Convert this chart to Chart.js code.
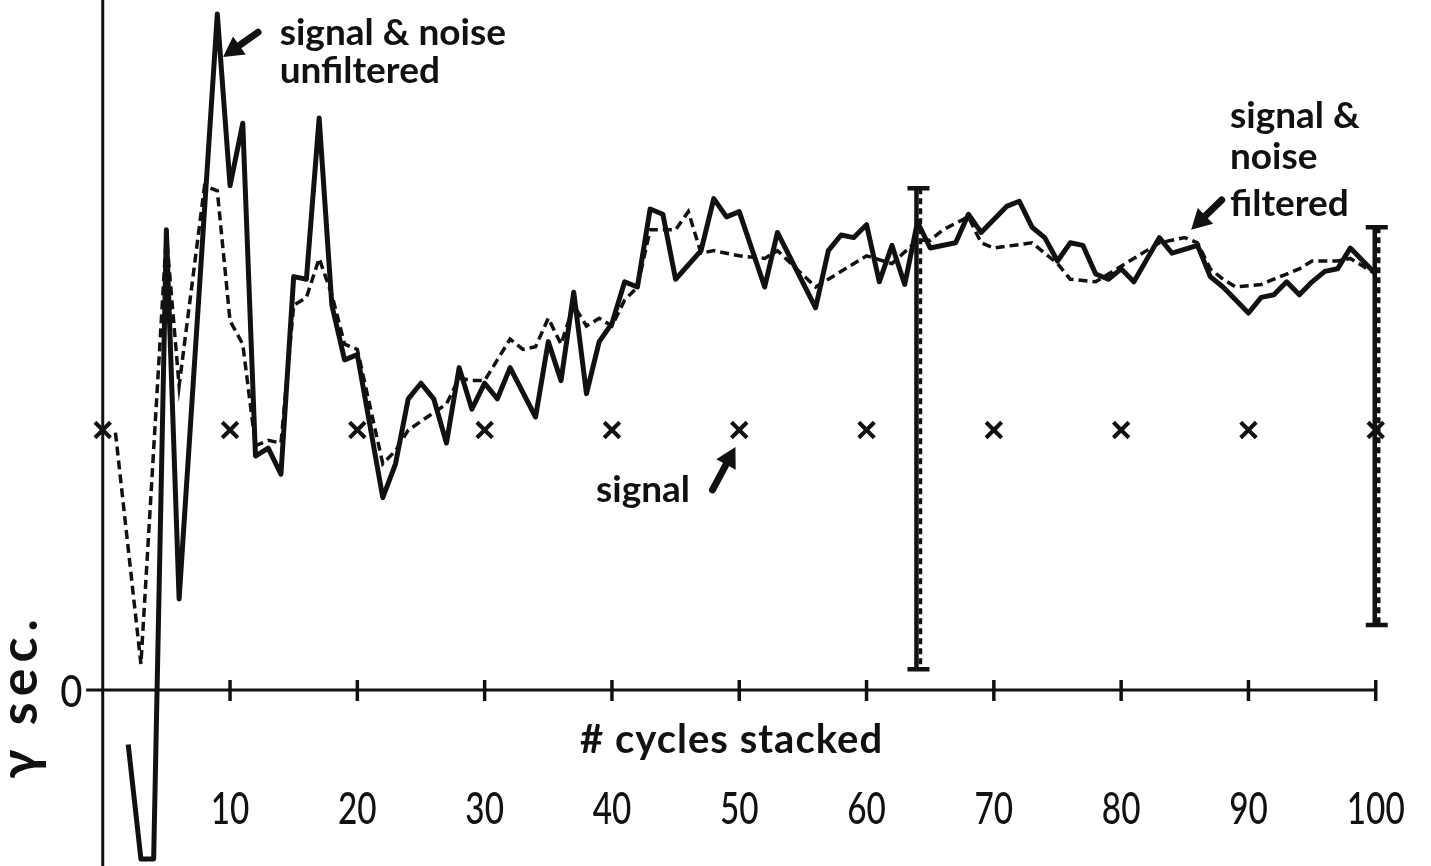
<!DOCTYPE html>
<html>
<head>
<meta charset="utf-8">
<script src="https://cdn.jsdelivr.net/npm/chart.js@4.4.1/dist/chart.umd.min.js"></script>
<style>
  html, body { margin: 0; padding: 0; background: #fff; }
  #plot { display: block; }
</style>
</head>
<body>
<canvas id="plot" width="1431" height="866"></canvas>
<script>
// signal & noise, unfiltered (solid trace)
const unfilteredCycles = [2, 3, 4, 5, 6, 9, 10, 11, 12, 13, 14, 15, 16, 17, 18, 19, 20, 22, 23, 24, 25, 26, 27, 28, 29, 30,
  31, 32, 34, 35, 36, 37, 38, 39, 40, 41, 42, 43, 44, 45, 47, 48, 49, 50, 52, 53, 56, 57, 58, 59, 60, 61, 62, 63, 64, 65,
  67, 68, 69, 71, 72, 73, 74, 75, 76, 77, 78, 79, 80, 81, 83, 84, 86, 87, 88, 90, 91, 92, 93, 94, 95, 96, 97, 98, 100];
const unfilteredGamma = [-2.1, -6.5, -6.5, 17.7, 3.5, 26.0, 19.4, 21.8, 9.0, 9.3, 8.3, 15.9, 15.8, 22.0, 14.8, 12.7, 12.9, 7.4, 8.7, 11.2, 11.8, 11.2, 9.5, 12.4, 10.8, 11.8,
  11.2, 12.4, 10.5, 13.4, 11.9, 15.3, 11.4, 13.4, 14.1, 15.7, 15.5, 18.5, 18.3, 15.8, 16.9, 18.9, 18.2, 18.4, 15.5, 17.6, 14.7, 16.9, 17.5, 17.4, 17.9, 15.7, 17.1, 15.6, 18.0, 17.0,
  17.2, 18.3, 17.6, 18.6, 18.8, 17.8, 17.4, 16.5, 17.2, 17.1, 16.0, 15.8, 16.2, 15.7, 17.4, 16.8, 17.1, 15.9, 15.5, 14.5, 15.1, 15.2, 15.7, 15.2, 15.7, 16.1, 16.2, 17.0, 16.0];

// signal & noise, filtered (dashed trace)
const filteredCycles = [1, 3, 5, 6, 8, 9, 10, 11, 12, 13, 14, 15, 16, 17, 18, 19, 20, 22, 23, 24, 27, 28, 29, 30, 32, 33,
  34, 35, 36, 37, 38, 39, 40, 41, 42, 43, 44, 45, 46, 47, 48, 50, 52, 53, 56, 57, 60, 62, 64, 65, 66, 68, 69, 70, 73, 75,
  76, 78, 80, 82, 83, 85, 86, 87, 88, 89, 91, 92, 94, 95, 97, 98, 100];
const filteredGamma = [9.9, 1.0, 17.5, 11.7, 19.4, 19.2, 14.2, 13.3, 9.4, 9.6, 9.5, 14.8, 15.1, 16.6, 15.2, 13.3, 13.1, 8.7, 9.2, 10.0, 11.0, 12.0, 11.9, 11.9, 13.5, 13.1,
  13.2, 14.3, 13.3, 14.8, 14.0, 14.3, 14.0, 15.0, 15.5, 17.7, 17.7, 17.7, 18.4, 16.8, 16.9, 16.7, 16.6, 16.9, 15.5, 15.8, 16.7, 16.4, 17.3, 17.3, 17.7, 18.2, 17.2, 17.0, 17.2, 16.4,
  15.8, 15.7, 16.3, 16.9, 17.2, 17.4, 17.2, 16.2, 15.8, 15.5, 15.6, 15.8, 16.2, 16.5, 16.5, 16.6, 16.0];

// true signal level (x marks)
const signalCycles = [0, 10, 20, 30, 40, 50, 60, 70, 80, 90, 100];
const signalGamma = [10, 10, 10, 10, 10, 10, 10, 10, 10, 10, 10];

// spread bars
const spreadCycles = [64, 100];
const spreadLow = [0.8, 2.5];
const spreadHigh = [19.3, 17.8];

const tickCycles = [10, 20, 30, 40, 50, 60, 70, 80, 90, 100];

// notes: text, cycle, gamma (left edge / baseline)
const notes = [
  ['signal & noise', 13.9, 24.8],
  ['unfiltered', 13.9, 23.35],
  ['signal &', 88.55, 21.6],
  ['noise', 88.55, 20.05],
  ['filtered', 88.55, 18.25],
  ['signal', 38.75, 7.25]
];
// arrows: tail cycle, tail gamma, tip cycle, tip gamma
const arrows = [
  [12.2, 25.3, 9.45, 24.35],
  [47.9, 7.7, 49.7, 9.35],
  [87.9, 18.85, 85.5, 17.7]
];

const ink = '#111';
const toPoints = (xs, ys) => xs.map((x, i) => ({x, y: ys[i]}));

function drawArrow(ctx, x0, y0, x1, y1) {
  const ang = Math.atan2(y1 - y0, x1 - x0);
  const head = 20, half = 11;
  const bx = x1 - head * Math.cos(ang), by = y1 - head * Math.sin(ang);
  ctx.lineWidth = 7;
  ctx.lineCap = 'round';
  ctx.beginPath(); ctx.moveTo(x0, y0); ctx.lineTo(bx, by); ctx.stroke();
  ctx.beginPath();
  ctx.moveTo(x1, y1);
  ctx.lineTo(bx + half * Math.sin(ang), by - half * Math.cos(ang));
  ctx.lineTo(bx - half * Math.sin(ang), by + half * Math.cos(ang));
  ctx.closePath();
  ctx.fill();
}

// narrow numerals: Lato squeezed sideways
function narrowText(ctx, text, cx, cy, squeeze) {
  ctx.save();
  ctx.translate(cx, cy);
  ctx.scale(squeeze, 1);
  ctx.fillText(text, 0, 0);
  ctx.restore();
}

const paperAxes = {
  id: 'paperAxes',
  beforeDatasetsDraw(chart) {
    const {ctx, chartArea} = chart;
    const {x, y} = chart.scales;
    const y0 = y.getPixelForValue(0);
    ctx.save();
    ctx.strokeStyle = ink;
    ctx.fillStyle = ink;
    ctx.lineWidth = 3;
    // gamma axis through cycle 0
    ctx.beginPath();
    ctx.moveTo(x.getPixelForValue(0), chartArea.top);
    ctx.lineTo(x.getPixelForValue(0), chartArea.bottom);
    ctx.stroke();
    // cycles axis along gamma 0
    ctx.beginPath();
    ctx.moveTo(x.getPixelForValue(-1.3), y0);
    ctx.lineTo(x.getPixelForValue(100), y0);
    ctx.stroke();
    ctx.lineWidth = 3.5;
    tickCycles.forEach(c => {
      const tx = x.getPixelForValue(c);
      ctx.beginPath(); ctx.moveTo(tx, y0 - 10); ctx.lineTo(tx, y0 + 11); ctx.stroke();
    });
    ctx.font = '500 45px Lato, sans-serif';
    ctx.textAlign = 'center';
    ctx.textBaseline = 'middle';
    const labelY = y.getPixelForValue(-4.6);
    tickCycles.forEach(c => narrowText(ctx, String(c), x.getPixelForValue(c), labelY, 0.74));
    ctx.textAlign = 'right';
    narrowText(ctx, '0', x.getPixelForValue(-1.6), y.getPixelForValue(-0.1), 0.85);

    ctx.font = 'bold 40px Lato, sans-serif';
    ctx.textAlign = 'left';
    ctx.textBaseline = 'alphabetic';
    ctx.letterSpacing = '1px';
    ctx.fillText('# cycles stacked', x.getPixelForValue(37.5), y.getPixelForValue(-2.42));

    // rotated gamma label
    ctx.translate(x.getPixelForValue(-5.16), y.getPixelForValue(-0.23));
    ctx.rotate(-Math.PI / 2);
    ctx.font = 'bold 52px Lato, sans-serif';
    ctx.letterSpacing = '6px';
    ctx.textAlign = 'center';
    ctx.fillText('γ sec.', 0, 0);
    ctx.restore();
  },
  afterDatasetsDraw(chart) {
    const {ctx} = chart;
    const {x, y} = chart.scales;
    ctx.save();
    ctx.strokeStyle = ink;
    ctx.fillStyle = ink;
    // spread bars with end caps
    spreadCycles.forEach((c, i) => {
      const bx = x.getPixelForValue(c);
      const top = y.getPixelForValue(spreadHigh[i]);
      const bot = y.getPixelForValue(spreadLow[i]);
      ctx.lineWidth = 4.5;
      ctx.beginPath(); ctx.moveTo(bx - 1, top); ctx.lineTo(bx - 1, bot); ctx.stroke();
      ctx.setLineDash([6, 4]);
      ctx.lineWidth = 3.5;
      ctx.beginPath(); ctx.moveTo(bx + 3, top); ctx.lineTo(bx + 3, bot); ctx.stroke();
      ctx.setLineDash([]);
      ctx.lineWidth = 4.5;
      ctx.beginPath();
      ctx.moveTo(bx - 10, top); ctx.lineTo(bx + 12, top);
      ctx.moveTo(bx - 10, bot); ctx.lineTo(bx + 12, bot);
      ctx.stroke();
    });
    ctx.font = 'bold 37px Lato, sans-serif';
    ctx.textAlign = 'left';
    ctx.textBaseline = 'alphabetic';
    notes.forEach(([t, c, g]) => ctx.fillText(t, x.getPixelForValue(c), y.getPixelForValue(g)));
    arrows.forEach(([c0, g0, c1, g1]) =>
      drawArrow(ctx, x.getPixelForValue(c0), y.getPixelForValue(g0), x.getPixelForValue(c1), y.getPixelForValue(g1)));
    ctx.restore();
  }
};

new Chart(document.getElementById('plot').getContext('2d'), {
  type: 'line',
  data: {
    datasets: [
      {
        label: 'signal & noise unfiltered',
        data: toPoints(unfilteredCycles, unfilteredGamma),
        borderColor: ink,
        borderWidth: 5,
        borderJoinStyle: 'round',
        pointRadius: 0,
        tension: 0
      },
      {
        label: 'signal & noise filtered',
        data: toPoints(filteredCycles, filteredGamma),
        borderColor: ink,
        borderWidth: 3.5,
        borderDash: [9, 5],
        pointRadius: 0,
        tension: 0
      },
      {
        label: 'signal',
        data: toPoints(signalCycles, signalGamma),
        showLine: false,
        pointStyle: 'crossRot',
        pointRadius: 11,
        borderColor: ink,
        borderWidth: 4
      }
    ]
  },
  options: {
    responsive: false,
    animation: false,
    devicePixelRatio: 1,
    layout: {padding: 0, autoPadding: false},
    scales: {
      x: {type: 'linear', min: -8.07, max: 104.34, display: false},
      y: {type: 'linear', min: -6.77, max: 26.54, display: false}
    },
    plugins: {legend: {display: false}, tooltip: {enabled: false}}
  },
  plugins: [paperAxes]
});
</script>
</body>
</html>
